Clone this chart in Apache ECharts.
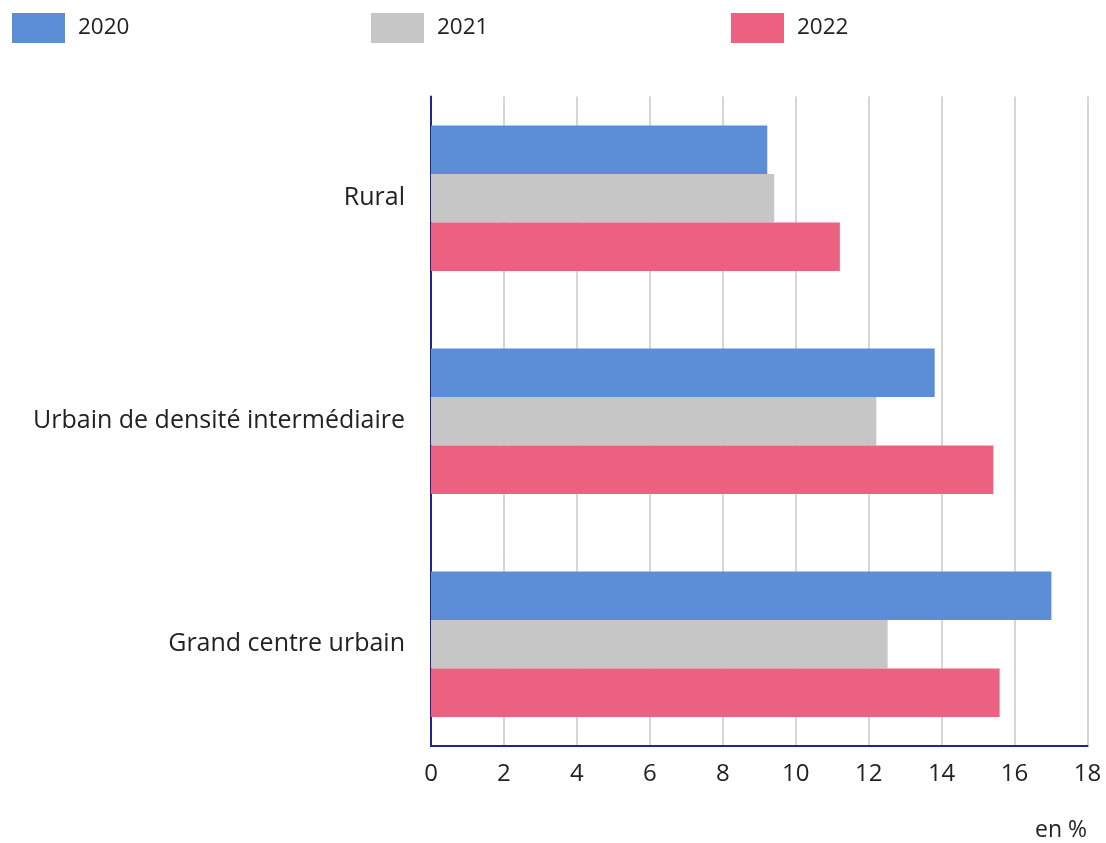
<!DOCTYPE html>
<html>
<head>
<meta charset="utf-8">
<script src="https://cdn.jsdelivr.net/npm/echarts@6/dist/echarts.min.js"></script>
<style>
  html, body { margin: 0; padding: 0; background: #ffffff; }
  #chart { width: 1106px; height: 843px; }
</style>
</head>
<body>
<div id="chart"></div>
<script>
// Territory types, top to bottom
const categories = ['Rural', 'Urbain de densité intermédiaire', 'Grand centre urbain'];
// Share per year, in %
const values2020 = [9.22, 13.81, 17.01];
const values2021 = [9.41, 12.21, 12.52];
const values2022 = [11.21, 15.42, 15.59];
const years = ['2020', '2021', '2022'];
const xTicks = { min: 0, max: 18, step: 2 };
const unitLabel = 'en %';

const FONT = '"Open Sans", "Noto Sans", sans-serif';
const TEXT = '#222222';
const AXIS = '#23238f';
const GRID = '#c8c8c8';
const colors = ['#5b8ed6', '#c6c6c6', '#ec6080'];

const chart = echarts.init(document.getElementById('chart'), null, { renderer: 'canvas' });

// one legend block per year, spread across the top
const legendLefts = [12, 371, 731];
const legends = years.map((y, i) => ({
  show: true,
  data: [y],
  left: legendLefts[i],
  top: 13,
  padding: 0,
  itemWidth: 53,
  itemHeight: 30,
  icon: 'rect',
  selectedMode: false,
  textStyle: { fontFamily: FONT, fontSize: 22.5, color: TEXT, padding: [6, 0, 0, 8] }
}));

const option = {
  backgroundColor: '#ffffff',
  animation: false,
  color: colors,
  legend: legends,
  grid: [
    // frame: axis lines, gridlines and tick labels
    { left: 431, right: 18.5, top: 96.5, height: 649.5, containLabel: false },
    // bar bands
    { left: 431, right: 18.5, top: 86.8, height: 669, containLabel: false }
  ],
  xAxis: [
    {
      gridIndex: 0, type: 'value', min: xTicks.min, max: xTicks.max, interval: xTicks.step,
      axisLine: { show: true, lineStyle: { color: AXIS, width: 2 } },
      axisTick: { show: false },
      splitLine: { show: true, lineStyle: { color: GRID, width: 1.5 } },
      axisLabel: { fontFamily: FONT, fontSize: 24, color: TEXT, margin: 16 }
    },
    {
      gridIndex: 1, type: 'value', min: xTicks.min, max: xTicks.max,
      show: false
    }
  ],
  yAxis: [
    {
      gridIndex: 0, type: 'category', data: categories, inverse: true,
      axisLine: { show: true, lineStyle: { color: AXIS, width: 2 } },
      axisTick: { show: false },
      axisLabel: { show: false },
      splitLine: { show: false }
    },
    {
      gridIndex: 1, type: 'category', data: categories, inverse: true,
      axisLine: { show: false },
      axisTick: { show: false },
      axisLabel: { fontFamily: FONT, fontSize: 25, color: TEXT, margin: 26 },
      splitLine: { show: false }
    }
  ],
  series: [values2020, values2021, values2022].map((vals, i) => ({
    name: years[i],
    type: 'bar',
    xAxisIndex: 1,
    yAxisIndex: 1,
    data: vals,
    barWidth: 48.5,
    barGap: '0%',
    itemStyle: { color: colors[i] },
    z: 3
  })),
  graphic: [
    {
      type: 'text',
      right: 19,
      top: 819,
      style: { text: unitLabel, fontFamily: FONT, fontSize: 23, fill: TEXT }
    }
  ]
};

chart.setOption(option);
</script>
</body>
</html>
